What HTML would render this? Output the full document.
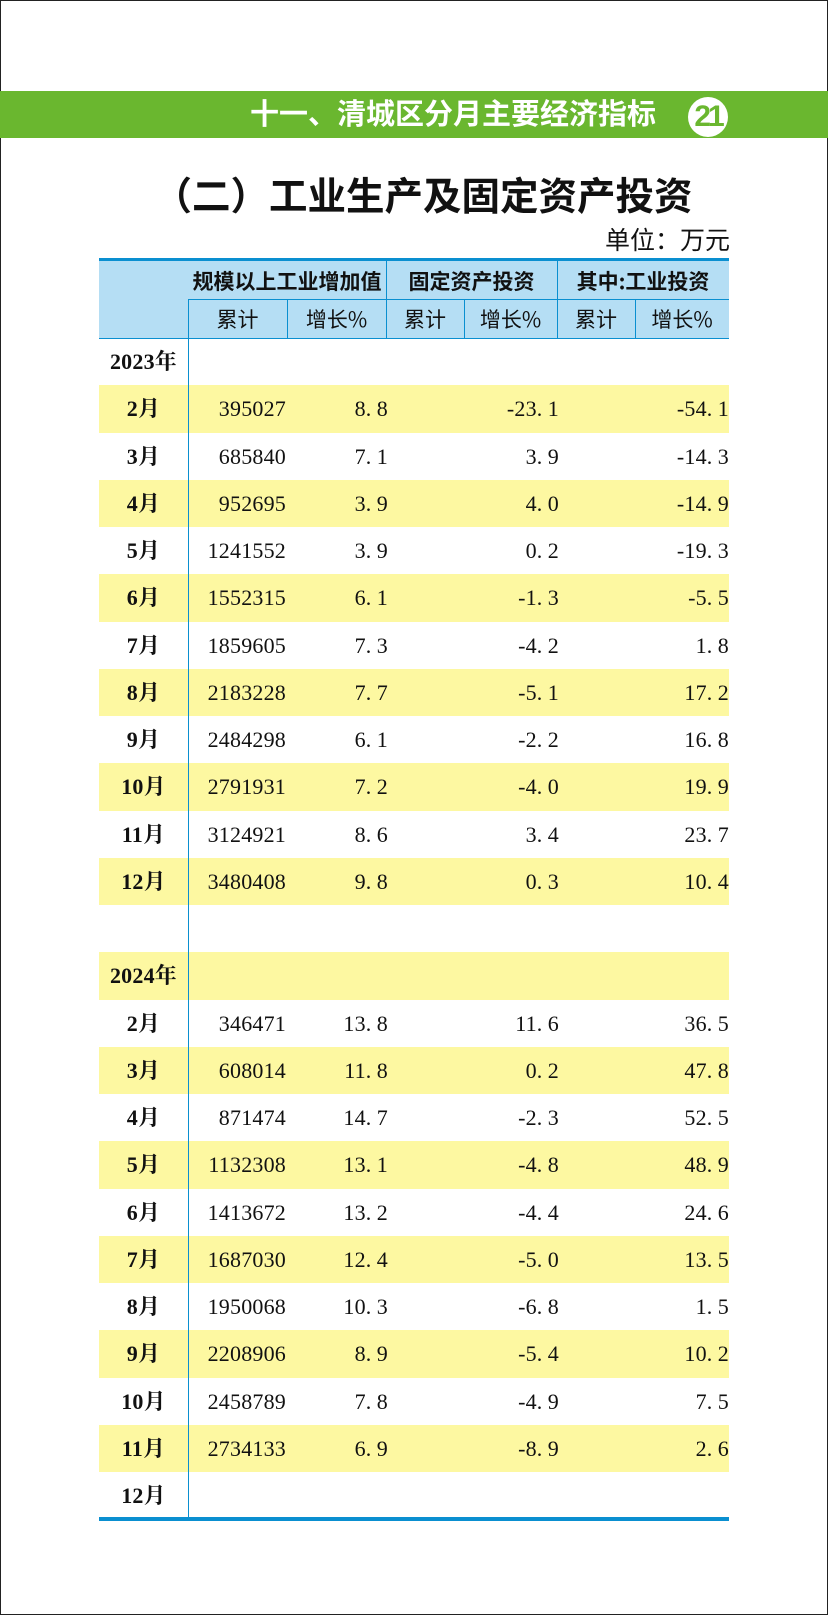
<!DOCTYPE html>
<html><head><meta charset="utf-8"><style>
*{margin:0;padding:0;box-sizing:border-box}
body{width:828px;height:1615px;position:relative;background:#fff;overflow:hidden;font-family:"Liberation Serif","Noto Serif CJK SC",serif}
.a{position:absolute}
.frame{left:0;top:0;width:828px;height:1615px;border:1.5px solid #222}
.banner{left:0;top:91px;width:828px;height:47px;background:#6ab72f}
.bt{left:250px;top:91px;height:47px;line-height:47px;color:#fff;font:bold 29px "Noto Sans CJK SC",sans-serif;letter-spacing:0px}
.circ{left:688px;top:97px;width:40px;height:40px;border-radius:50%;background:#fff;color:#6ab72f;font:bold 30px/40px "Liberation Sans",sans-serif;text-align:center;letter-spacing:-3px}
.title{left:120px;top:171px;width:606px;text-align:center;font:bold 38.5px/46px "Noto Sans CJK SC",sans-serif;color:#111}
.unit{left:560px;top:224px;width:170px;text-align:right;font:25px/30px "Noto Sans CJK SC",sans-serif;color:#111}
.hdr{left:99px;top:258px;width:630px;height:81px;background:#b5def4;border-top:3px solid #0a8fd0;border-bottom:1.5px solid #0a8fd0}
.vl{background:#0a8fd0;width:1.3px}
.h1{font:bold 21px/38px "Noto Sans CJK SC",sans-serif;text-align:center;color:#111;top:262px;height:38px}
.h2{font:21px/38px "Noto Sans CJK SC",sans-serif;text-align:center;color:#111;top:300px;height:38px}
.row{left:99px;width:630px;height:47.25px}
.y{background:#fdf8a1}
.t{font-size:22px;color:#111;letter-spacing:0.2px;line-height:47px;white-space:nowrap}
.m{left:99px;width:89px;text-align:center;font-weight:bold}
.c1{right:542px;text-align:right}
.c2{right:440px;text-align:right}
.c3{right:269px;text-align:right}
.c4{right:99px;text-align:right}
.d{display:inline-block;width:11px;text-align:left}
</style></head><body>
<div class="a frame"></div>
<div class="a banner"></div>
<div class="a bt">十一、清城区分月主要经济指标</div>
<div class="a circ">21</div>
<div class="a title">（二）工业生产及固定资产投资</div>
<div class="a unit">单位：万元</div>
<div class="a hdr"></div>
<div class="a" style="left:188px;top:299px;width:541px;height:1.3px;background:#0a8fd0"></div>
<div class="a vl" style="left:386px;top:261px;height:78px"></div>
<div class="a vl" style="left:557px;top:261px;height:78px"></div>
<div class="a vl" style="left:287px;top:299px;height:40px"></div>
<div class="a vl" style="left:464px;top:299px;height:40px"></div>
<div class="a vl" style="left:635px;top:299px;height:40px"></div>
<div class="a h1" style="left:188px;width:198px">规模以上工业增加值</div>
<div class="a h1" style="left:386px;width:171px">固定资产投资</div>
<div class="a h1" style="left:557px;width:172px">其中:工业投资</div>
<div class="a h2" style="left:188px;width:99px">累计</div>
<div class="a h2" style="left:287px;width:99px">增长%</div>
<div class="a h2" style="left:386px;width:78px">累计</div>
<div class="a h2" style="left:464px;width:93px">增长%</div>
<div class="a h2" style="left:557px;width:78px">累计</div>
<div class="a h2" style="left:635px;width:94px">增长%</div>
<div id="rows"></div>
<div class="a" style="left:99px;top:1517px;width:630px;height:4px;background:#0a8fd0"></div>
<script>
var D=[["2023年"],["2月","395027","8.8","-23.1","-54.1",1],["3月","685840","7.1","3.9","-14.3"],["4月","952695","3.9","4.0","-14.9",1],["5月","1241552","3.9","0.2","-19.3"],["6月","1552315","6.1","-1.3","-5.5",1],["7月","1859605","7.3","-4.2","1.8"],["8月","2183228","7.7","-5.1","17.2",1],["9月","2484298","6.1","-2.2","16.8"],["10月","2791931","7.2","-4.0","19.9",1],["11月","3124921","8.6","3.4","23.7"],["12月","3480408","9.8","0.3","10.4",1],[""],["2024年",,,,,1],["2月","346471","13.8","11.6","36.5"],["3月","608014","11.8","0.2","47.8",1],["4月","871474","14.7","-2.3","52.5"],["5月","1132308","13.1","-4.8","48.9",1],["6月","1413672","13.2","-4.4","24.6"],["7月","1687030","12.4","-5.0","13.5",1],["8月","1950068","10.3","-6.8","1.5"],["9月","2208906","8.9","-5.4","10.2",1],["10月","2458789","7.8","-4.9","7.5"],["11月","2734133","6.9","-8.9","2.6",1],["12月"]];
function f(s){return s?s.replace(".",'<span class="d">.</span>'):""}
var h="";
D.forEach(function(r,i){var top=338+i*47.25;
if(r[5])h+='<div class="a row y" style="top:'+top+'px"></div>';
h+='<div class="a t m" style="top:'+top+'px">'+(r[0]||"")+'</div>';
if(r[1]){h+='<div class="a t c1" style="top:'+top+'px">'+r[1]+'</div>';
h+='<div class="a t c2" style="top:'+top+'px">'+f(r[2])+'</div>';
h+='<div class="a t c3" style="top:'+top+'px">'+f(r[3])+'</div>';
h+='<div class="a t c4" style="top:'+top+'px">'+f(r[4])+'</div>';}
});
document.getElementById("rows").innerHTML=h;
</script>
<div class="a vl" style="left:188px;top:299px;height:1220px"></div>
</body></html>
